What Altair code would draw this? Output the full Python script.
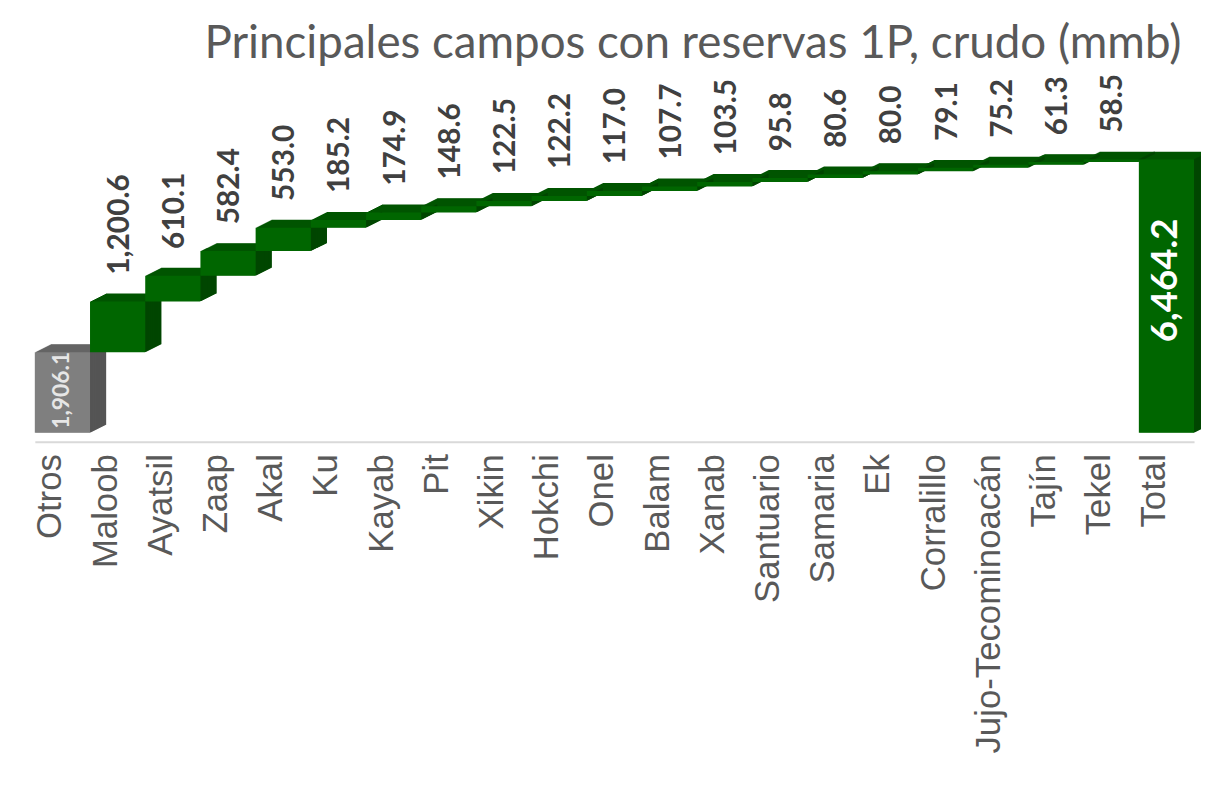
import altair as alt
import pandas as pd

campos = ["Otros", "Maloob", "Ayatsil", "Zaap", "Akal", "Ku", "Kayab", "Pit", "Xikin",
          "Hokchi", "Onel", "Balam", "Xanab", "Santuario", "Samaria", "Ek", "Corralillo",
          "Jujo-Tecominoacán", "Tajín", "Tekel"]
valores = [1906.1, 1200.6, 610.1, 582.4, 553.0, 185.2, 174.9, 148.6, 122.5, 122.2, 117.0,
           107.7, 103.5, 95.8, 80.6, 80.0, 79.1, 75.2, 61.3, 58.5]
total_nombre = "Total"
total_valor = 6464.2

# Build waterfall table
rows = []
acum = 0.0
for i, (c, v) in enumerate(zip(campos, valores)):
    tipo = "otros" if i == 0 else "campo"
    rows.append({"campo": c, "valor": v, "start": acum, "end": acum + v, "tipo": tipo})
    acum += v
rows.append({"campo": total_nombre, "valor": total_valor, "start": 0.0, "end": total_valor,
             "tipo": "total"})
df = pd.DataFrame(rows)
df["mid"] = (df["start"] + df["end"]) / 2
orden = campos + [total_nombre]

TIPOS = ["otros", "campo", "total"]
FRONT = ["#7f7f7f", "#006600", "#006600"]
TOP = ["#666666", "#005400", "#005400"]
SIDE = ["#555555", "#004600", "#004600"]

DX, DY, N = 16, 8, 16

def xenc(band=None):
    kw = {}
    if band is not None:
        kw["bandPosition"] = band
    return alt.X("campo:N", sort=orden,
                 scale=alt.Scale(paddingInner=0, paddingOuter=0),
                 axis=alt.Axis(title=None, labelAngle=-90, labelFont="Liberation Sans",
                               labelFontSize=35, labelColor="#595959", ticks=False,
                               domainColor="#d9d9d9", domainWidth=2, offset=9,
                               labelPadding=12, labelOffset=-12, labelLimit=0, grid=False),
                 **kw)

yscale = alt.Scale(domain=[0, 8180], nice=False, zero=True)

def col(rng):
    return alt.Color("tipo:N", scale=alt.Scale(domain=TIPOS, range=rng), legend=None)

base = alt.Chart(df)

# top faces (extrusion of full rects)
tops = []
for k in range(N, 0, -1):
    ox = k * DX / N
    oy = -k * DY / N
    tops.append(base.mark_bar(xOffset=ox, x2Offset=ox, yOffset=oy, y2Offset=oy).encode(
        x=xenc(), y=alt.Y("start:Q", scale=yscale, axis=None), y2="end:Q", color=col(TOP)))
# side faces
sides = []
for k in range(N, 0, -1):
    ox = k * DX / N - 0.5
    oy = -k * DY / N
    sides.append(base.mark_rule(strokeWidth=1.5, xOffset=ox, yOffset=oy, y2Offset=oy).encode(
        x=xenc(1), y=alt.Y("start:Q", scale=yscale, axis=None), y2="end:Q", color=col(SIDE)))
# front faces
front = base.mark_bar().encode(
    x=xenc(), y=alt.Y("start:Q", scale=yscale, axis=None), y2="end:Q", color=col(FRONT))

# value labels above steps
lab_steps = base.transform_filter(alt.datum.tipo == "campo").mark_text(
    angle=270, align="left", baseline="middle", font="Lato", fontWeight="bold",
    fontSize=30, color="#404040", yOffset=-27, xOffset=2).encode(
    x=xenc(), y=alt.Y("end:Q", scale=yscale, axis=None),
    text=alt.Text("valor:Q", format=",.1f"))
# label inside Otros
lab_otros = base.transform_filter(alt.datum.tipo == "otros").mark_text(
    angle=270, align="left", baseline="middle", font="Lato", fontWeight="bold",
    fontSize=23, color="#e6e6e6", yOffset=-4).encode(
    x=xenc(), y=alt.Y("start:Q", scale=yscale, axis=None),
    text=alt.Text("valor:Q", format=",.1f"))
# label inside Total
lab_total = base.transform_filter(alt.datum.tipo == "total").mark_text(
    angle=270, align="center", baseline="middle", font="Lato", fontWeight="bold",
    fontSize=37, color="#ffffff", yOffset=-16).encode(
    x=xenc(), y=alt.Y("mid:Q", scale=yscale, axis=None),
    text=alt.Text("valor:Q", format=",.1f"))

chart = alt.layer(*tops, *sides, front, lab_steps, lab_otros, lab_total).resolve_scale(
    color="independent"
).properties(
    width=1167, height=348,
    padding={"left": 27, "top": 77, "right": 7, "bottom": 360},
    autosize=alt.AutoSizeParams(type="none"),
    title=alt.Title("Principales campos con reservas 1P, crudo (mmb)", font="Lato",
                    fontSize=46, fontWeight="normal", color="#595959", anchor="end",
                    dx=-29, offset=6),
    background="white",
).configure_view(stroke=None)

chart.save("out.html", embed_options={"renderer": "svg", "actions": False})
